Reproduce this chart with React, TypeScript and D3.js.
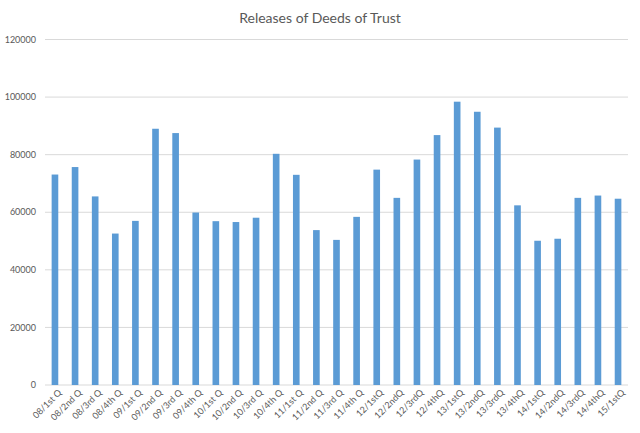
import React from "react";
import * as d3 from "d3";

const categories = [
  "08/1st Q", "08/2nd Q", "08/3rd Q", "08/4th Q",
  "09/1st Q", "09/2nd Q", "09/3rd Q", "09/4th Q",
  "10/1st Q", "10/2nd Q", "10/3rd Q", "10/4th Q",
  "11/1st Q", "11/2nd Q", "11/3rd Q", "11/4th Q",
  "12/1stQ", "12/2ndQ", "12/3rdQ", "12/4thQ",
  "13/1stQ", "13/2ndQ", "13/3rdQ", "13/4thQ",
  "14/1stQ", "14/2ndQ", "14/3rdQ", "14/4thQ",
  "15/1stQ",
];
const releases = [
  73100, 75700, 65500, 52600,
  57000, 89000, 87500, 59900,
  56900, 56600, 58100, 80300,
  73000, 53800, 50400, 58400,
  74800, 65000, 78300, 86800,
  98400, 94900, 89400, 62400,
  50100, 50800, 65000, 65800,
  64700,
];
const yTicks = [0, 20000, 40000, 60000, 80000, 100000, 120000];
const title = "Releases of Deeds of Trust";

export default function App() {
  const W = 640, H = 433;
  const left = 45, right = 628, top = 39.5, bottom = 385;
  const x = d3.scaleBand<string>().domain(categories).range([left, right]).paddingInner(0.67).paddingOuter(0.33);
  const y = d3.scaleLinear().domain([0, 120000]).range([bottom, top]);
  const font = "Lato, 'Open Sans', sans-serif";
  const textColor = "#595959";
  return (
    <svg width={W} height={H} style={{ position: "absolute", left: 0, top: 0, background: "#fff" }} fontFamily={font}>
      <rect width={W} height={H} fill="#fff" />
      <text x={320} y={23} textAnchor="middle" fontSize={14} fill={textColor}>{title}</text>
      {yTicks.map((t) => (
        <g key={t}>
          <line x1={left} x2={right} y1={y(t)} y2={y(t)} stroke="#D9D9D9" strokeWidth={1} />
          <text x={36} y={y(t)} dy="0.35em" textAnchor="end" fontSize={9} fill={textColor}>{t}</text>
        </g>
      ))}
      {categories.map((c, i) => (
        <rect key={c} x={x(c)} y={y(releases[i])} width={x.bandwidth()} height={y(0) - y(releases[i])} fill="#5B9BD5" />
      ))}
      {categories.map((c) => {
        const cx = (x(c) as number) + x.bandwidth() / 2;
        return (
          <text key={c} transform={`translate(${cx + 5},${391}) rotate(-45)`} textAnchor="end" dy="0.35em" fontSize={9} fill={textColor}>{c}</text>
        );
      })}
    </svg>
  );
}
